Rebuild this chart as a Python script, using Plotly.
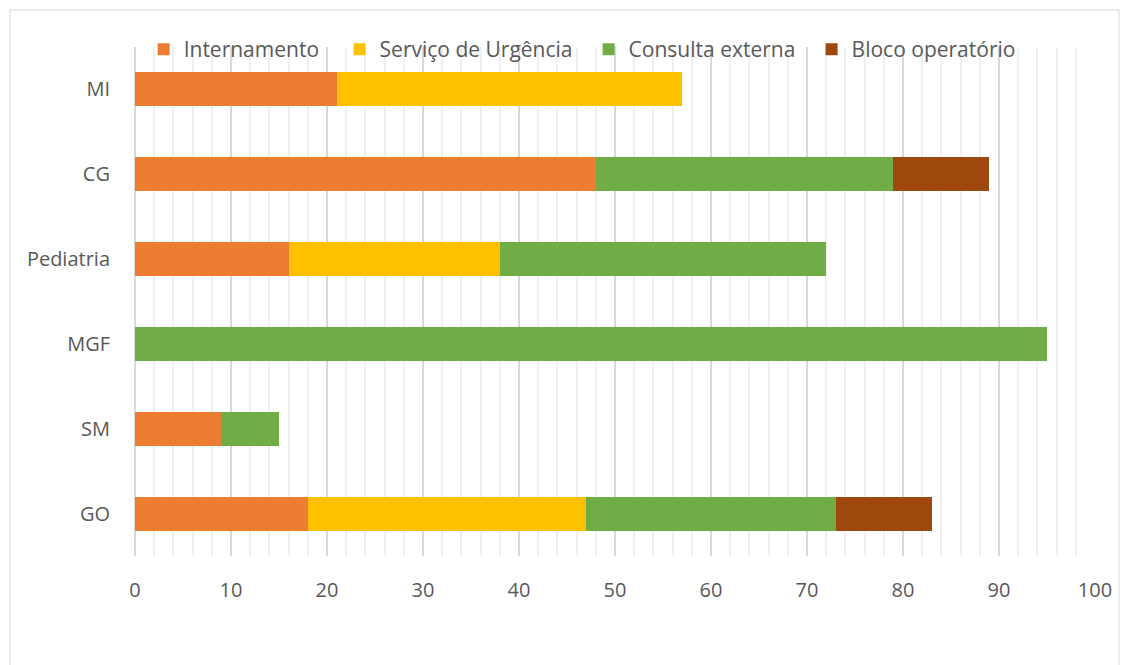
import plotly.graph_objects as go

categories = ["MI", "CG", "Pediatria", "MGF", "SM", "GO"]
series_names = ["Internamento", "Serviço de Urgência", "Consulta externa", "Bloco operatório"]
internamento = [21, 48, 16, 0, 9, 18]
servico_urgencia = [36, 0, 22, 0, 0, 29]
consulta_externa = [0, 31, 34, 95, 6, 26]
bloco_operatorio = [0, 10, 0, 0, 0, 10]
x_ticks = [0, 10, 20, 30, 40, 50, 60, 70, 80, 90, 100]

colors = ["#ED7D31", "#FFC000", "#70AD47", "#9E480E"]
values = [internamento, servico_urgencia, consulta_externa, bloco_operatorio]
legend_ids = ["legend", "legend2", "legend3", "legend4"]
legend_x = [0.009, 0.2131, 0.4725, 0.7048]

fig = go.Figure()
for name, vals, col, lid in zip(series_names, values, colors, legend_ids):
    fig.add_trace(go.Bar(
        y=categories, x=vals, name=name, orientation="h", showlegend=True,
        marker=dict(color=col, line=dict(width=0)), legend=lid,
    ))

font_family = "Open Sans, Noto Sans, sans-serif"
legend_common = dict(orientation="h", xanchor="left", y=0.995, yanchor="middle",
                     font=dict(size=21, color="#595959"), bgcolor="rgba(255,255,255,0)",
                     itemsizing="constant")
legends = {lid: dict(x=lx, **legend_common) for lid, lx in zip(legend_ids, legend_x)}

fig.update_layout(
    showlegend=True,
    barmode="stack",
    bargap=0.6,
    width=1121, height=657,
    margin=dict(l=127, r=34, t=39, b=109),
    paper_bgcolor="white",
    plot_bgcolor="white",
    font=dict(family=font_family, size=20, color="#595959"),
    xaxis=dict(range=[0, 100], tickvals=x_ticks, showgrid=True, gridcolor="#D9D9D9",
               gridwidth=1.5, zeroline=True, zerolinecolor="#D9D9D9", zerolinewidth=1.5,
               minor=dict(dtick=2, showgrid=True, gridcolor="#F0F0F0", gridwidth=1.5),
               ticklabelstandoff=20, tickfont=dict(size=20, color="#595959"),
               fixedrange=True),
    yaxis=dict(categoryorder="array", categoryarray=categories, autorange="reversed",
               showgrid=False, ticklabelstandoff=24, tickfont=dict(size=20, color="#595959"),
               showline=False),
    shapes=[dict(type="rect", xref="paper", yref="paper",
                 x0=-0.1302, x1=1.025, y0=-0.26, y1=1.0727,
                 line=dict(color="#D9D9D9", width=1), layer="below")],
    **legends,
)

fig.write_html("out.html")
